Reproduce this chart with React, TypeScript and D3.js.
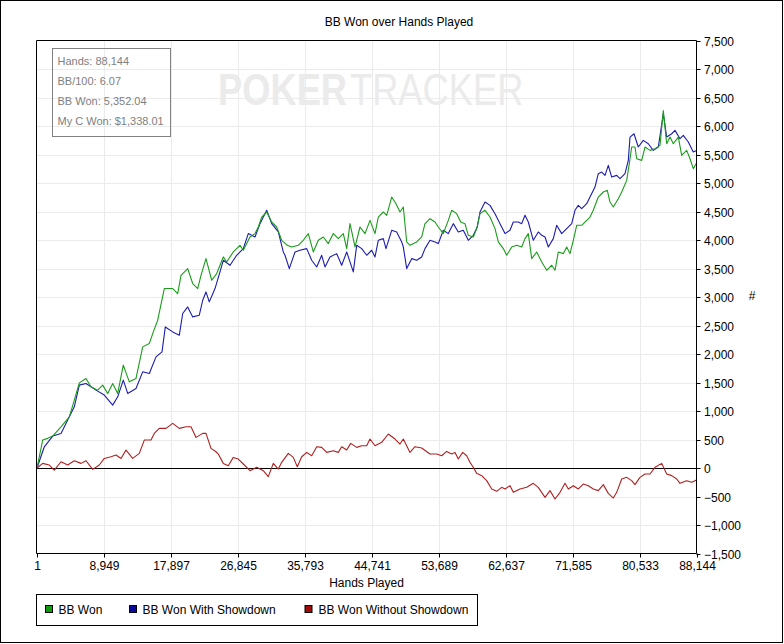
import React from "react";
import * as d3 from "d3";

// ---- Data ----
const xTickValues = [1, 8949, 17897, 26845, 35793, 44741, 53689, 62637, 71585, 80533, 88144];
const yTickValues = [-1500, -1000, -500, 0, 500, 1000, 1500, 2000, 2500, 3000, 3500, 4000, 4500, 5000, 5500, 6000, 6500, 7000, 7500];

const seriesNames = ["BB Won", "BB Won With Showdown", "BB Won Without Showdown"];
const seriesColors = ["#1a9c1a", "#1c1cb0", "#b02020"];
const legendColors = ["#109a10", "#0a0a9a", "#a00a0a"];

const statsLines = ["Hands: 88,144", "BB/100: 6.07", "BB Won: 5,352.04", "My C Won: $1,338.01"];

const greenHands = [1, 762, 1431, 2099, 3209, 4318, 4986, 5655, 6550, 7218, 8113, 8782, 9450, 10118, 10786, 11535, 12337, 13232, 14128, 15010, 15464, 16133, 17015, 18138, 18806, 19247, 20142, 20811, 21479, 21919, 22587, 23349, 24017, 24899, 25354, 26236, 27132, 27573, 28468, 29137, 29578, 30032, 30700, 31369, 32037, 32705, 33454, 34042, 34924, 35592, 36260, 36929, 37597, 38265, 38934, 39602, 40270, 40939, 41393, 41834, 42502, 43170, 43839, 44507, 45175, 45616, 46284, 46739, 47407, 47982, 48516, 48957, 49412, 49853, 50748, 51416, 51857, 52525, 53194, 53635, 54303, 54971, 55426, 56094, 56629, 57203, 57645, 58313, 58767, 59209, 59877, 60545, 61214, 61655, 62323, 62778, 63446, 64114, 64783, 65224, 65665, 66120, 66788, 67457, 68126, 68794, 69235, 69676, 70344, 70799, 71236, 71681, 72131, 72799, 73468, 73909, 74350, 75019, 75687, 76222, 76582, 77023, 77691, 78146, 78814, 79162, 79483, 79924, 80151, 80820, 81261, 81929, 82597, 83266, 83707, 84161, 84602, 85043, 85712, 86166, 86835, 87276, 87717, 88144];
const greenValues = [0, 490, 520, 560, 723, 898, 1190, 1494, 1571, 1424, 1366, 1454, 1308, 1483, 1308, 1804, 1512, 1571, 2125, 2183, 2358, 2593, 3148, 3148, 3060, 3381, 3498, 3236, 3148, 3381, 3674, 3294, 3411, 3703, 3615, 3790, 3907, 3820, 4053, 4112, 4228, 4403, 4491, 4316, 4228, 3995, 3907, 3878, 3907, 3995, 4112, 3790, 3995, 4053, 3937, 4112, 4024, 4112, 3849, 4287, 3878, 4228, 4112, 4345, 4112, 4403, 4491, 4432, 4754, 4637, 4491, 4578, 3966, 3907, 3966, 4053, 4287, 4374, 4316, 4228, 4112, 4345, 4521, 4462, 4316, 4287, 4082, 4053, 4199, 4462, 4521, 4403, 4199, 3966, 3849, 3732, 3878, 3907, 3878, 4024, 4112, 3674, 3790, 3615, 3469, 3557, 3469, 3790, 3761, 3878, 3761, 3995, 4258, 4258, 4345, 4403, 4521, 4754, 4842, 4871, 4666, 4579, 4725, 4842, 5046, 5339, 5631, 5631, 5426, 5397, 5631, 5572, 5601, 5660, 6273, 5689, 5806, 5689, 5806, 5485, 5572, 5426, 5251, 5352];

const blueHands = [1, 977, 2099, 3209, 4318, 4986, 5655, 6550, 7886, 8996, 10118, 10786, 11535, 12123, 13232, 14128, 15010, 15906, 16707, 17149, 18138, 19020, 19475, 20142, 20811, 21693, 22147, 22587, 23029, 23790, 24459, 24899, 25795, 26690, 27573, 28242, 29137, 29805, 30700, 31369, 32251, 32919, 33146, 33721, 34483, 35151, 36046, 36715, 37383, 38051, 38492, 39160, 40056, 40724, 41393, 42275, 42729, 43397, 44066, 44734, 45175, 45616, 46284, 46645, 47407, 48075, 48743, 48957, 49412, 50080, 50748, 51416, 51857, 52525, 53194, 53635, 54303, 54971, 55640, 56308, 56976, 57645, 58313, 58848, 59209, 59877, 60545, 61214, 61882, 62550, 63218, 63659, 64328, 64783, 65224, 65665, 66334, 67002, 67457, 67898, 68339, 69007, 69457, 70126, 70799, 71463, 71905, 72346, 72799, 73468, 73909, 74578, 75019, 75474, 75915, 76356, 76810, 77478, 77920, 78588, 79029, 79256, 79791, 80365, 81034, 81702, 82370, 83039, 83707, 84161, 84829, 85270, 85939, 86380, 87048, 87717, 88144];
const blueValues = [0, 372, 560, 607, 898, 1073, 1454, 1483, 1366, 1279, 1103, 1249, 1541, 1308, 1396, 1687, 1658, 1950, 2037, 2475, 2388, 2330, 2710, 2826, 2651, 2680, 2943, 3089, 2914, 3148, 3440, 3644, 3556, 3732, 3849, 4112, 4053, 4287, 4521, 4287, 4141, 3790, 3732, 3498, 3790, 3820, 3849, 3644, 3527, 3732, 3527, 3703, 3761, 3556, 3790, 3440, 3907, 3849, 3732, 3820, 3703, 3995, 4024, 3849, 4170, 4141, 3966, 3878, 3498, 3673, 3644, 3703, 3849, 3995, 3966, 3937, 4170, 4112, 4287, 4141, 4170, 3995, 4082, 4228, 4491, 4666, 4608, 4462, 4287, 4112, 4170, 4316, 4316, 4287, 4433, 4316, 3995, 4141, 4082, 4053, 3878, 4024, 4258, 4112, 4199, 4287, 4521, 4608, 4550, 4637, 4754, 4929, 5163, 5192, 5134, 5309, 5104, 5134, 5075, 5163, 5397, 5806, 5864, 5631, 5748, 5689, 5572, 5631, 6215, 5806, 5864, 5923, 5777, 5835, 5719, 5543, 5572];

const redHands = [1, 762, 1645, 2313, 3209, 4104, 4986, 5882, 6550, 7446, 8328, 8996, 9891, 10559, 11228, 11896, 12791, 13674, 14342, 15237, 15678, 16346, 17242, 18138, 19020, 19915, 20584, 21251, 22147, 22587, 23256, 23925, 24231, 24899, 25568, 26236, 26904, 27573, 28468, 29363, 30246, 30914, 31582, 32251, 32705, 33588, 34256, 34791, 35378, 36046, 36715, 37383, 38051, 38720, 39602, 40270, 40724, 41393, 41927, 42729, 43397, 44066, 44507, 45175, 46071, 46953, 47848, 48516, 48957, 49853, 50521, 51416, 52525, 53421, 54089, 54758, 55426, 55867, 56308, 56896, 57431, 57872, 58313, 58767, 59436, 60104, 60772, 61441, 62109, 62550, 63218, 63659, 64555, 65451, 66334, 67002, 67898, 68566, 69235, 69903, 70572, 71013, 71681, 72346, 73018, 73681, 74350, 75019, 75687, 76356, 77023, 77478, 78146, 78814, 79483, 79924, 80593, 81261, 81929, 82597, 83493, 84161, 84829, 85498, 85939, 86835, 87503, 88144];
const redValues = [0, 81, 52, -36, 110, 52, 127, 81, 127, -24, 52, 168, 197, 227, 168, 314, 168, 256, 490, 490, 607, 695, 695, 782, 695, 723, 723, 537, 607, 607, 344, 285, 245, 81, 40, 186, 157, 70, -47, 12, -47, -152, 81, -18, 99, 256, 186, 23, 198, 274, 215, 373, 362, 274, 303, 274, 373, 315, 432, 362, 391, 391, 508, 391, 450, 596, 508, 420, 508, 274, 373, 350, 245, 245, 215, 291, 245, 274, 157, 274, 215, 99, 12, -94, -134, -222, -368, -409, -339, -368, -310, -427, -368, -339, -269, -339, -515, -397, -544, -427, -269, -368, -310, -368, -281, -310, -368, -397, -292, -445, -527, -427, -193, -164, -222, -292, -164, -105, -105, 12, 81, -105, -134, -193, -269, -222, -251, -210];

const FONT = "'Liberation Sans', Arial, sans-serif";

export default function App() {
  const W = 784;
  const H = 644;
  const plot = { left: 36.5, right: 696.5, top: 40.5, bottom: 553.5 };

  const x = d3.scaleLinear().domain([1, 88144]).range([37, 696.5]);
  const y = d3.scaleLinear().domain([-1500, 7500]).range([plot.bottom, plot.top]);
  const fmt = d3.format(",");

  const line = d3
    .line<[number, number]>()
    .x((d) => x(d[0]))
    .y((d) => y(d[1]));

  const series = [
    { hands: greenHands, values: greenValues, color: seriesColors[0] },
    { hands: blueHands, values: blueValues, color: seriesColors[1] },
    { hands: redHands, values: redValues, color: seriesColors[2] },
  ];
  const drawOrder = [2, 1, 0];

  const legendX = [45.5, 129.5, 305];
  const legendTextX = [58.5, 142.5, 318.5];

  return (
    <svg
      width={W}
      height={H}
      style={{ position: "fixed", left: 0, top: 0, background: "#fff" }}
      fontFamily={FONT}
    >
      <rect x={0.5} y={0.5} width={782} height={642} fill="#fff" stroke="#000" strokeWidth={1} />

      {/* title */}
      <text x={399} y={26} textAnchor="middle" fontSize={12} fill="#000">
        BB Won over Hands Played
      </text>

      {/* grid */}
      <g stroke="#ebebeb" strokeWidth={1}>
        {xTickValues.slice(1, -1).map((t) => (
          <line key={"gx" + t} x1={Math.round(x(t)) + 0.5} x2={Math.round(x(t)) + 0.5} y1={plot.top} y2={plot.bottom} />
        ))}
        {yTickValues.slice(1, -1).map((t) => (
          <line key={"gy" + t} x1={plot.left} x2={plot.right} y1={Math.round(y(t)) + 0.5} y2={Math.round(y(t)) + 0.5} />
        ))}
      </g>

      {/* watermark */}
      <g transform="translate(218,105) scale(0.825,1)" fill="#ebebeb" fontSize={44}>
        <text x={0} y={0} fontWeight="bold">POKER</text>
        <text x={160} y={0}>TRACKER</text>
      </g>

      {/* zero line */}
      <line x1={plot.left} x2={plot.right} y1={Math.round(y(0)) + 0.5} y2={Math.round(y(0)) + 0.5} stroke="#000" strokeWidth={1} />

      {/* series */}
      {drawOrder.map((i) => {
        const s = series[i];
        const pts: [number, number][] = s.hands.map((h, k) => [h, s.values[k]]);
        return <path key={"s" + i} d={line(pts) || ""} fill="none" stroke={s.color} strokeWidth={1.1} strokeLinejoin="round" />;
      })}

      {/* plot frame: top & left */}
      <line x1={plot.left} x2={plot.right} y1={plot.top} y2={plot.top} stroke="#000" />
      <line x1={plot.left} x2={plot.left} y1={plot.top} y2={plot.bottom} stroke="#000" />

      {/* right y axis */}
      <line x1={plot.right} x2={plot.right} y1={plot.top} y2={plot.bottom} stroke="#000" />
      {yTickValues.map((t) => {
        const yy = Math.round(y(t)) + 0.5;
        return (
          <g key={"yt" + t}>
            <line x1={plot.right} x2={plot.right + 4} y1={yy} y2={yy} stroke="#000" />
            <text x={704} y={yy + 4} fontSize={12} fill="#000">
              {fmt(t)}
            </text>
          </g>
        );
      })}
      <text x={752} y={300} fontSize={12} textAnchor="middle" fill="#000">
        #
      </text>

      {/* bottom x axis */}
      <line x1={plot.left} x2={plot.right} y1={plot.bottom} y2={plot.bottom} stroke="#000" />
      {xTickValues.map((t) => {
        const xx = Math.round(x(t)) + 0.5;
        return (
          <g key={"xt" + t}>
            <line x1={xx} x2={xx} y1={plot.bottom} y2={plot.bottom + 4} stroke="#000" />
            <text x={xx} y={570} fontSize={12} textAnchor="middle" fill="#000">
              {fmt(t)}
            </text>
          </g>
        );
      })}
      <text x={366.5} y={587} fontSize={12} textAnchor="middle" fill="#000">
        Hands Played
      </text>

      {/* stats box */}
      <rect x={52.5} y={48.5} width={118} height={88} fill="none" stroke="#808080" />
      {statsLines.map((s, i) => (
        <text key={"st" + i} x={57.5} y={65 + i * 19.9} fontSize={11} fill="#808080">
          {s}
        </text>
      ))}

      {/* legend */}
      <rect x={36.5} y={594.5} width={441} height={31} fill="#fff" stroke="#000" />
      {seriesNames.map((n, i) => (
        <g key={"lg" + i}>
          <rect x={legendX[i]} y={605.5} width={7} height={7} fill={legendColors[i]} stroke="#000" />
          <text x={legendTextX[i]} y={614} fontSize={12} fill="#000">
            {n}
          </text>
        </g>
      ))}
    </svg>
  );
}
